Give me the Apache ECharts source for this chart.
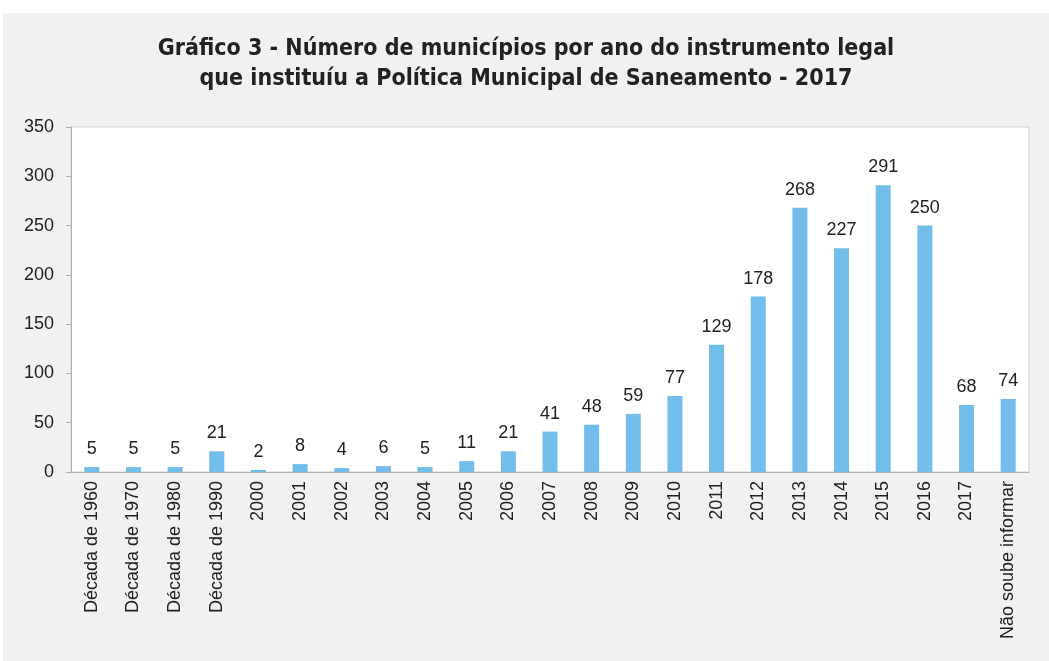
<!DOCTYPE html>
<html>
<head>
<meta charset="utf-8">
<script src="https://cdn.jsdelivr.net/npm/echarts@6/dist/echarts.min.js"></script>
<style>
html,body{margin:0;padding:0;background:#fff;width:1049px;height:661px;overflow:hidden;}
#c{position:absolute;left:3px;top:13px;width:1046px;height:648px;background:#f0f1f3;}
</style>
</head>
<body>
<div id="c"></div>
<script>
const categories = ['Década de 1960','Década de 1970','Década de 1980','Década de 1990','2000','2001','2002','2003','2004','2005','2006','2007','2008','2009','2010','2011','2012','2013','2014','2015','2016','2017','Não soube informar'];
const values = [5,5,5,21,2,8,4,6,5,11,21,41,48,59,77,129,178,268,227,291,250,68,74];
const yTicks = {min:0, max:350, interval:50};
const titleText = 'Gráfico 3 - Número de municípios por ano do instrumento legal\nque instituíu a Política Municipal de Saneamento - 2017';

const chart = echarts.init(document.getElementById('c'));
chart.setOption({
  backgroundColor: '#f0f1f3',
  animation: false,
  title: {
    text: titleText,
    left: 'center',
    top: 16,
    textStyle: {
      fontFamily: '"Liberation Sans Narrow","DejaVu Sans Condensed","Liberation Sans",sans-serif',
      fontWeight: 'bold',
      fontSize: 23,
      lineHeight: 30,
      color: '#222'
    }
  },
  grid: {
    left: 68, right: 20, top: 114, bottom: 189,
    show: true, backgroundColor: '#ffffff', borderColor: '#cfcfcf', borderWidth: 1
  },
  xAxis: {
    type: 'category',
    data: categories,
    axisLine: {lineStyle: {color: '#b0b0b0', width: 1}},
    axisTick: {show: false},
    axisLabel: {
      rotate: 90, interval: 0, margin: 9,
      fontFamily: '"Liberation Sans",Arial,sans-serif', fontSize: 18, color: '#222'
    }
  },
  yAxis: {
    type: 'value',
    min: yTicks.min, max: yTicks.max, interval: yTicks.interval,
    axisLine: {show: true, lineStyle: {color: '#b0b0b0', width: 1}},
    axisTick: {show: true, length: 5, lineStyle: {color: '#b0b0b0'}},
    splitLine: {show: false},
    axisLabel: {
      margin: 17,
      fontFamily: '"Liberation Sans",Arial,sans-serif', fontSize: 18, color: '#222'
    }
  },
  series: [{
    type: 'bar',
    data: values,
    barWidth: 15,
    itemStyle: {color: '#72bde9'},
    label: {
      show: true, position: 'top', distance: 9,
      fontFamily: '"Liberation Sans",Arial,sans-serif', fontSize: 18, color: '#222'
    }
  }]
});
</script>
</body>
</html>
